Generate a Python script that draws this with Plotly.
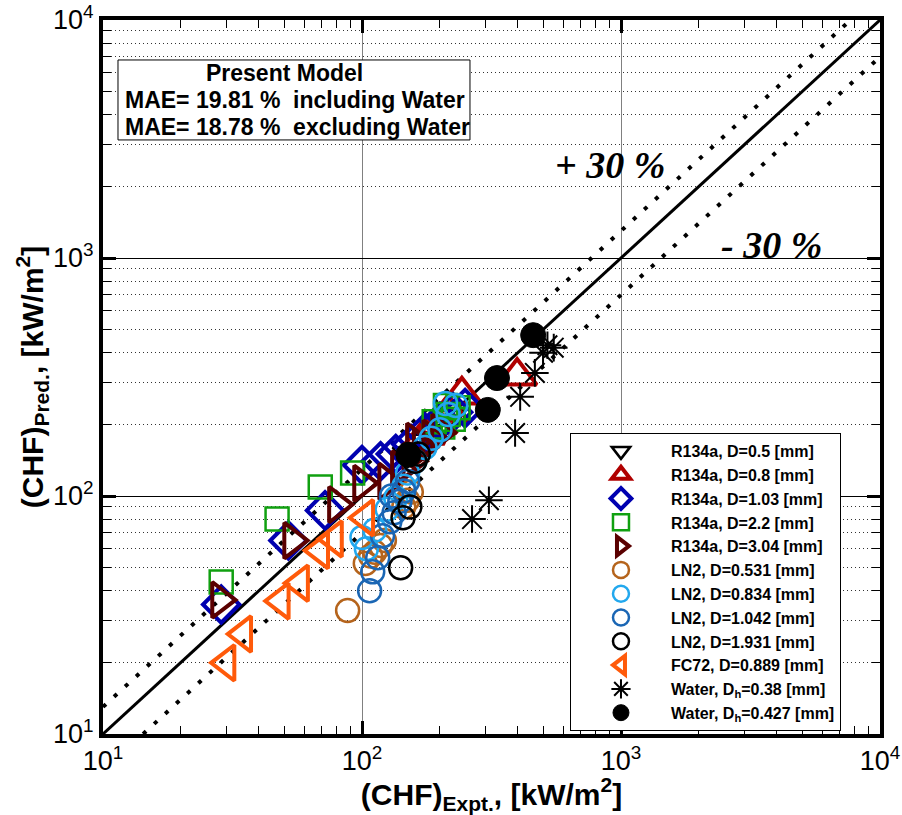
import plotly.graph_objects as go

# ---------------- data ----------------
r134a_05_x = [150, 175, 200, 220]
r134a_05_y = [150, 170, 195, 215]

r134a_08_x = [175, 195, 215, 243, 397]
r134a_08_y = [180, 200, 225, 266, 319]

r134a_103_x = [28.6, 52, 72, 100, 118, 135, 155, 175, 200, 225, 250]
r134a_103_y = [35, 65, 87, 135, 140, 150, 165, 185, 205, 225, 234]

r134a_22_x = [28.6, 47, 69, 92, 190, 205, 215, 225, 235, 210]
r134a_22_y = [43.5, 80, 109, 125, 205, 195, 220, 210, 235, 240]

r134a_304_x = [28.3, 53.7, 80, 100, 125, 140, 155, 170, 185, 200, 160]
r134a_304_y = [36.6, 65, 92, 113, 115, 130, 140, 160, 175, 185, 170]

ln2_0531_x = [88, 103, 108, 112, 118, 122, 145, 150, 155]
ln2_0531_y = [33, 52, 56, 58, 62, 65, 90, 96, 104]

ln2_0834_x = [100, 104, 112, 125, 135, 145, 150, 160, 175, 185, 200, 215, 230, 210]
ln2_0834_y = [67, 60, 72, 88, 98, 110, 125, 140, 160, 175, 190, 220, 240, 245]

ln2_1042_x = [107, 110, 115, 120, 128, 133, 140, 145, 150, 130]
ln2_1042_y = [40, 48, 55, 68, 78, 85, 95, 105, 115, 100]

ln2_1931_x = [141, 144, 153, 160, 165]
ln2_1931_y = [50, 81, 90, 140, 150]

fc72_x = [30, 34.8, 48.6, 57.7, 69, 78, 103]
fc72_y = [19.9, 26.3, 36.2, 43, 59, 66, 81]

water_038_x = [266, 309, 390, 408, 465, 500, 520, 550]
water_038_y = [80, 96, 184, 261, 329, 400, 430, 420]

water_0427_x = [151, 306, 332, 458]
water_0427_y = [149, 230, 313, 474]

axis_range = [10, 10000]
band_factors = [1.3, 0.7]

tick_vals = [10, 100, 1000, 10000]
tick_text = ["10<sup>1</sup>", "10<sup>2</sup>", "10<sup>3</sup>", "10<sup>4</sup>"]
minor_vals = [m * 10 ** k for k in (1, 2, 3) for m in range(2, 10)]

series = [
    ("R134a, D=0.5 [mm]", r134a_05_x, r134a_05_y, "triangle-down-open", "black", 26, 2.5),
    ("R134a, D=0.8 [mm]", r134a_08_x, r134a_08_y, "triangle-up-open", "#b00000", 34, 4),
    ("R134a, D=1.03 [mm]", r134a_103_x, r134a_103_y, "diamond-open", "#0000b0", 28, 4),
    ("R134a, D=2.2 [mm]", r134a_22_x, r134a_22_y, "square-open", "#10a010", 23, 2.5),
    ("R134a, D=3.04 [mm]", r134a_304_x, r134a_304_y, "triangle-right-open", "#5a0000", 31, 4),
    ("LN2, D=0.531 [mm]", ln2_0531_x, ln2_0531_y, "circle-open", "#b5641c", 23, 2.5),
    ("LN2, D=0.834 [mm]", ln2_0834_x, ln2_0834_y, "circle-open", "#22a8ee", 23, 2.5),
    ("LN2, D=1.042 [mm]", ln2_1042_x, ln2_1042_y, "circle-open", "#1a66b4", 23, 2.5),
    ("LN2, D=1.931 [mm]", ln2_1931_x, ln2_1931_y, "circle-open", "black", 23, 2.5),
    ("FC72, D=0.889 [mm]", fc72_x, fc72_y, "triangle-left-open", "#ff5a0a", 31, 4),
    ("Water, D<sub>h</sub>=0.38 [mm]", water_038_x, water_038_y, "asterisk-open", "black", 23, 2),
    ("Water, D<sub>h</sub>=0.427 [mm]", water_0427_x, water_0427_y, "circle", "black", 25, 1),
]

fig = go.Figure()

# parity line and +/-30 % band
fig.add_trace(go.Scatter(x=axis_range, y=axis_range, mode="lines",
                         line=dict(color="black", width=3), showlegend=False, hoverinfo="skip"))
for f in band_factors:
    if f > 1:
        bx = [axis_range[0], axis_range[1] / f]
    else:
        bx = [axis_range[0] / f, axis_range[1]]
    fig.add_trace(go.Scatter(x=bx, y=[v * f for v in bx], mode="lines",
                             line=dict(color="black", width=4, dash="4px,11px"),
                             showlegend=False, hoverinfo="skip"))

for i, (name, xs, ys, sym, col, size, lw) in enumerate(series):
    fig.add_trace(go.Scatter(
        x=xs, y=ys, mode="markers", name=name,
        marker=dict(symbol=sym, size=size, color=col,
                    line=dict(color=col, width=lw)),
    ))

font_main = "Liberation Sans Narrow, Liberation Sans, Arial"
font_bold = "Liberation Sans, Arial"

axis_common = dict(
    type="log", range=[1, 4], tickmode="array", tickvals=tick_vals, ticktext=tick_text,
    ticks="inside", ticklen=13, tickwidth=3, tickcolor="black",
    showline=True, linewidth=4, linecolor="black", mirror="allticks",
    tickfont=dict(family=font_main, size=27, color="black"),
    zeroline=False, automargin=False,
)

fig.update_xaxes(
    **axis_common, showgrid=True, gridcolor="#808080", gridwidth=1,
    minor=dict(tickmode="array", tickvals=minor_vals, ticks="inside", ticklen=8,
               tickwidth=1, tickcolor="black", showgrid=False),
    title=dict(text="<b>(CHF)<sub>Expt.</sub>, [kW/m<sup>2</sup>]</b>",
               font=dict(family=font_main, size=30, color="black"), standoff=0),
)
fig.update_yaxes(
    **axis_common, showgrid=True, gridcolor="black", gridwidth=1,
    minor=dict(tickmode="array", tickvals=minor_vals, ticks="inside", ticklen=8,
               tickwidth=1, tickcolor="black", showgrid=True,
               gridcolor="#333333", gridwidth=1, griddash="1px,3px"),
    title=dict(text="<b>(CHF)<sub>Pred.</sub>, [kW/m<sup>2</sup>]</b>",
               font=dict(family=font_main, size=30, color="black"), standoff=0),
)

# text box
fig.add_shape(type="rect", xref="paper", yref="paper", x0=0.0193, x1=0.4723, y0=0.832, y1=0.944,
              line=dict(color="black", width=1), fillcolor="white", layer="above")
box_font = dict(family=font_bold, size=23, color="black")
fig.add_annotation(xref="paper", yref="paper", x=0.234, y=0.9258, text="<b>Present Model</b>",
                   showarrow=False, font=box_font, xanchor="center", yanchor="middle")
fig.add_annotation(xref="paper", yref="paper", x=0.0257, y=0.888,
                   text="<b>MAE= 19.81 %  including Water</b>",
                   showarrow=False, font=box_font, xanchor="left", yanchor="middle")
fig.add_annotation(xref="paper", yref="paper", x=0.0257, y=0.850,
                   text="<b>MAE= 18.78 %  excluding Water</b>",
                   showarrow=False, font=box_font, xanchor="left", yanchor="middle")

# band labels
serif = dict(family="Liberation Serif, Times New Roman", size=38, color="black")
fig.add_annotation(xref="paper", yref="paper", x=0.6525, y=0.797, text="<b><i>+ 30 %</i></b>",
                   showarrow=False, font=serif, xanchor="center", yanchor="middle")
fig.add_annotation(xref="paper", yref="paper", x=0.861, y=0.685, text="<b><i>- 30 %</i></b>",
                   showarrow=False, font=serif, xanchor="center", yanchor="middle")

fig.update_layout(
    width=902, height=815, autosize=False,
    margin=dict(l=103, r=22, t=20, b=81),
    paper_bgcolor="white", plot_bgcolor="white",
    showlegend=True,
    legend=dict(x=0.601, y=0.4216, xanchor="left", yanchor="top",
                bgcolor="white", bordercolor="black", borderwidth=1,
                font=dict(family=font_bold, size=16, color="black", weight="bold"),
                itemwidth=90),
)

fig.write_html("out.html", config={"displayModeBar": False},
               post_script="document.body.style.margin='0';")
